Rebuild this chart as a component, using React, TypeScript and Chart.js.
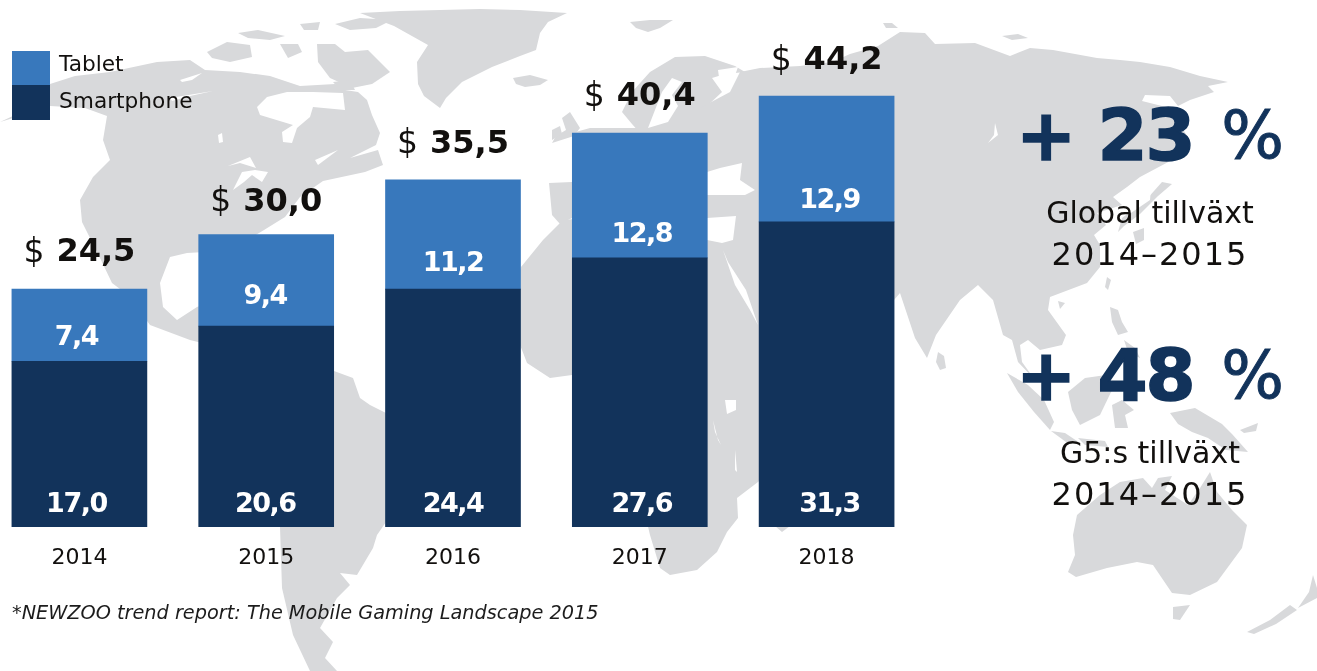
import React, { useEffect, useRef } from "react";
import { Chart, registerables } from "chart.js";

Chart.register(...registerables);

const years = ["2014", "2015", "2016", "2017", "2018"];
const smartphone = [17.0, 20.6, 24.4, 27.6, 31.3];
const tablet = [7.4, 9.4, 11.2, 12.8, 12.9];
const totals = ["24,5", "30,0", "35,5", "40,4", "44,2"];
const smartLabels = ["17,0", "20,6", "24,4", "27,6", "31,3"];
const tabletLabels = ["7,4", "9,4", "11,2", "12,8", "12,9"];
const legendNames = ["Tablet", "Smartphone"];
const footnote = "*NEWZOO trend report: The Mobile Gaming Landscape 2015";

const NAVY = "#12335b";
const BLUE = "#3878bc";
const GREY = "#d8d9db";
const INK = "#12100e";

// Decorative backdrop: a hand-traced world map (not data)
const landShapes = [
  // North America
  "0,122 15,115 38,104 50,98 50,84 75,76 110,72 157,62 190,60 205,70 240,72 270,76 300,86 335,84 345,90 358,92 367,100 372,115 380,133 376,145 362,152 350,158 378,150 383,165 365,172 323,181 300,197 285,217 264,230 247,240 238,256 225,250 205,252 187,253 170,257 160,283 163,307 177,320 197,307 215,300 220,312 205,330 225,350 240,370 290,390 300,372 250,345 210,345 190,340 150,325 128,295 112,283 100,258 82,222 80,200 93,177 110,160 103,140 107,116 85,108 50,106 20,116",
  // Arctic Canada islands
  "207,52 227,42 250,45 252,57 230,62 212,58",
  "238,33 258,30 285,36 270,40 248,38",
  "280,44 298,44 302,52 288,58",
  "317,44 335,44 345,52 368,50 390,72 372,84 352,88 330,78 318,62",
  "335,24 360,18 392,20 376,28 350,30",
  "300,24 320,22 318,30 304,30",
  "333,82 350,80 355,90 340,90",
  // Greenland
  "360,13 400,11 480,9 520,10 567,13 548,22 540,33 536,50 520,56 492,67 462,82 446,98 440,108 424,96 418,84 417,62 428,45 394,26",
  // Iceland
  "513,78 530,75 548,80 540,85 525,87 516,84",
  // Svalbard
  "630,22 650,20 673,20 660,28 648,32 636,28",
  // UK and Ireland
  "570,112 580,128 574,136 552,143 556,136 566,130 562,118",
  "552,130 560,126 562,134 552,140",
  // Scandinavia
  "622,112 632,92 650,72 675,57 705,56 735,66 745,72 725,74 712,78 722,92 705,108 700,120 680,133 640,133 632,124",
  // Eurasia main
  "572,133 590,128 640,128 700,108 730,92 740,72 760,68 800,66 832,62 850,54 878,46 900,32 925,33 935,44 975,43 1010,56 1030,48 1053,50 1097,58 1120,60 1140,62 1170,67 1200,76 1228,82 1208,86 1214,92 1190,100 1178,106 1170,96 1145,95 1142,101 1170,108 1180,125 1190,140 1172,160 1140,177 1127,187 1113,197 1122,205 1097,213 1106,225 1094,235 1100,245 1100,267 1087,283 1050,297 1048,310 1066,335 1062,345 1040,350 1028,340 1020,345 1022,362 1035,380 1018,362 1012,340 1003,335 993,300 978,285 960,300 936,335 927,358 915,338 900,293 860,280 800,250 759,240 740,215 710,200 700,215 672,205 630,205 600,217 572,217 572,150",
  // Anatolia and the Levant
  "700,190 770,190 770,250 700,250",
  // Arabia, under the 2018 bar
  "707,215 780,215 894,280 900,293 894,300 850,350 780,370 757,325",
  // Spain
  "549,183 572,182 572,218 560,224 552,215",
  // Africa
  "521,267 543,240 563,220 620,215 680,240 707,240 727,250 757,323 780,370 820,340 860,310 880,330 850,380 790,450 758,482 737,498 738,518 727,532 717,552 697,570 670,575 660,568 650,535 630,450 600,375 572,375 550,378 527,363 522,350 505,310",
  // Madagascar and Sri Lanka
  "775,526 790,526 782,532",
  "938,352 944,356 946,368 940,370 936,362",
  // Japan and north-east islands
  "1162,182 1172,184 1158,196 1140,214 1124,226 1118,232 1122,218 1146,200",
  "1133,232 1144,228 1144,240 1136,244",
  "1002,36 1018,34 1028,38 1012,40",
  "883,23 892,23 898,28 886,28",
  // Taiwan, Hainan, Philippines
  "1107,277 1111,280 1108,290 1105,287",
  "1058,301 1065,303 1060,309",
  "1110,307 1118,310 1122,322 1128,332 1118,335 1112,322",
  "1124,340 1135,348 1140,358 1128,352",
  // Sumatra and Java
  "1007,373 1028,385 1044,400 1054,422 1050,430 1034,412 1018,392",
  "1051,431 1065,433 1077,441 1066,442",
  "1078,438 1105,441 1108,447 1085,445",
  // Borneo and Sulawesi
  "1068,392 1085,378 1106,375 1112,390 1100,415 1080,425 1072,410",
  "1112,405 1122,400 1134,410 1125,415 1128,428 1115,428",
  // New Guinea
  "1170,413 1195,408 1222,424 1232,434 1248,452 1226,450 1208,438 1192,432 1178,424",
  "1240,430 1258,423 1256,431 1244,433",
  // Australia
  "1073,535 1077,515 1100,495 1120,482 1143,478 1152,488 1158,478 1172,476 1165,490 1188,505 1200,488 1210,472 1217,492 1232,510 1247,525 1242,548 1217,582 1190,595 1172,593 1153,565 1137,562 1107,568 1076,577 1068,572 1075,555",
  "1173,607 1190,605 1180,620 1173,619",
  // New Zealand
  "1247,632 1270,620 1290,605 1297,610 1276,624 1254,634",
  "1298,608 1309,592 1313,575 1317,588 1317,598",
  // South America
  "280,380 300,374 334,371 353,378 360,398 370,405 400,420 440,440 420,480 386,522 377,535 373,548 357,575 340,573 350,585 337,598 320,628 333,642 325,658 337,671 310,671 293,635 282,588 280,527 265,450",
];

const waterShapes = [
  // Hudson Bay
  "257,107 267,97 287,92 313,92 343,93 345,110 313,107 310,117 297,128 292,143 283,142 282,132 293,125 260,115",
  // Canadian lakes and Great Lakes
  "180,80 202,73 192,80 182,82",
  "170,98 213,91 190,96 172,101",
  "218,135 222,133 223,142 219,143",
  "228,166 250,157 256,168 240,163",
  "233,190 242,172 255,170 268,172 262,182 252,175 244,182",
  "315,160 338,150 318,165",
  // Baikal
  "995,123 998,135 988,143 994,135",
  // Baltic
  "655,110 662,92 672,78 682,82 672,95 678,106 668,122 648,128",
  // White Sea
  "718,70 738,67 734,78 720,84",
  // Black Sea
  "707,172 720,168 742,163 740,180 755,190 745,195 707,195",
  // East Mediterranean
  "707,218 736,216 733,240 722,243 707,240",
  // Red Sea
  "723,250 728,262 746,290 758,325 750,310 735,285",
  // Lakes of Africa
  "725,400 736,400 736,410 727,414",
  "713,420 715,432 721,445 718,440",
  "735,450 736,460 737,472 735,470",
  // Sea of Japan
  "1130,190 1152,176 1150,200 1128,215",
];

const tabletOffsets = [23, 29, 25, 23, 21];
const totalOffsets = [36, 32, 35, 36, 35];
const labelNudges = [-3, -1, 0, 2, 3];

function bold(px: number) { return `bold ${px}px "DejaVu Sans"`; }
function regular(px: number) { return `${px}px "DejaVu Sans"`; }

const overlay = {
  id: "overlay",
  afterDatasetsDraw(chart: any) {
    const { ctx } = chart;
    const x = chart.scales.x;
    const y = chart.scales.y;
    ctx.save();
    ctx.translate(14, 0); // canvas sits 14px left of the page edge
    ctx.textBaseline = "middle";
    ctx.textAlign = "center";
    years.forEach((_, i) => {
      const base = x.getPixelForValue(i) - 14;
      const cx = base + labelNudges[i];
      ctx.fillStyle = "#ffffff";
      ctx.font = bold(27);
      (ctx as any).letterSpacing = "-1.5px";
      ctx.fillText(smartLabels[i], cx, y.getPixelForValue(0) - 22);
      ctx.fillText(tabletLabels[i], cx, y.getPixelForValue(smartphone[i]) - tabletOffsets[i]);
      (ctx as any).letterSpacing = "0px";
      const top = y.getPixelForValue(smartphone[i] + tablet[i]) - totalOffsets[i];
      ctx.font = regular(33);
      const dollarW = ctx.measureText("$").width;
      ctx.font = bold(32);
      const numW = ctx.measureText(totals[i]).width;
      const start = base - (dollarW + 12 + numW) / 2;
      ctx.textAlign = "left";
      ctx.fillStyle = INK;
      ctx.fillText(totals[i], start + dollarW + 12, top);
      ctx.font = regular(33);
      ctx.fillText("$", start, top);
      ctx.textAlign = "center";
    });

    // legend
    ctx.fillStyle = BLUE;
    ctx.fillRect(12, 51, 38, 34);
    ctx.fillStyle = NAVY;
    ctx.fillRect(12, 85, 38, 35);
    ctx.textAlign = "left";
    ctx.fillStyle = INK;
    ctx.font = regular(21.7);
    ctx.fillText(legendNames[0], 59, 65);
    ctx.fillText(legendNames[1], 59, 102);

    // footnote
    ctx.font = `italic 19.3px "DejaVu Sans"`;
    ctx.fillStyle = "#1c1c1c";
    ctx.fillText(footnote, 12, 614);

    // right-hand call-outs
    const callout = (value: string, yMid: number, line1: string, line2: string) => {
      ctx.fillStyle = NAVY;
      ctx.strokeStyle = NAVY;
      ctx.textAlign = "left";
      ctx.font = bold(72);
      (ctx as any).letterSpacing = "-2px";
      ctx.lineWidth = 1.5;
      ctx.fillText("+ " + value, 1016, yMid);
      ctx.strokeText("+ " + value, 1016, yMid);
      (ctx as any).letterSpacing = "0px";
      ctx.font = regular(66);
      ctx.textAlign = "right";
      ctx.lineWidth = 1;
      ctx.fillText("%", 1284, yMid);
      ctx.strokeText("%", 1284, yMid);
      ctx.textAlign = "center";
      ctx.fillStyle = INK;
      ctx.font = regular(30);
      ctx.fillText(line1, 1150, yMid + 74);
      ctx.font = regular(32);
      (ctx as any).letterSpacing = "2px";
      ctx.fillText(line2, 1150, yMid + 116);
      (ctx as any).letterSpacing = "0px";
    };
    callout("23", 141, "Global tillväxt", "2014–2015");
    callout("48", 381, "G5:s tillväxt", "2014–2015");
    ctx.restore();
  },
};

export default function App() {
  const ref = useRef<HTMLCanvasElement>(null);
  useEffect(() => {
    document.body.style.margin = "0";
    document.documentElement.style.overflow = "hidden";
    const chart = new Chart(ref.current as HTMLCanvasElement, {
      type: "bar",
      data: {
        labels: years,
        datasets: [
          { label: "Smartphone", data: smartphone, backgroundColor: NAVY, barThickness: 135, stack: "a" },
          { label: "Tablet", data: tablet, backgroundColor: BLUE, barThickness: 135, stack: "a" },
        ],
      },
      options: {
        responsive: false,
        animation: false,
        layout: { padding: { left: 0, right: 397, top: 0, bottom: 0 } },
        plugins: { legend: { display: false }, tooltip: { enabled: false } },
        scales: {
          x: {
            stacked: true,
            grid: { display: false },
            border: { display: false },
            ticks: { color: INK, font: { family: "DejaVu Sans", size: 22 }, padding: 10, maxRotation: 0 },
            afterFit: (s: any) => { s.height = 144; },
          },
          y: { stacked: true, display: false, min: 0, max: 54.05 },
        },
      },
      plugins: [overlay],
    } as any);
    return () => chart.destroy();
  }, []);
  return (
    <div style={{ position: "relative", width: 1317, height: 671, overflow: "hidden", background: "#fff" }}>
      <svg width={1317} height={671} style={{ position: "absolute", left: 0, top: 0 }}>
        {landShapes.map((p, i) => <polygon key={i} points={p} fill={GREY} />)}
        {waterShapes.map((p, i) => <polygon key={i} points={p} fill="#ffffff" />)}
      </svg>
      <canvas ref={ref} width={1331} height={671} style={{ position: "absolute", left: -14, top: 0 }} />
    </div>
  );
}
